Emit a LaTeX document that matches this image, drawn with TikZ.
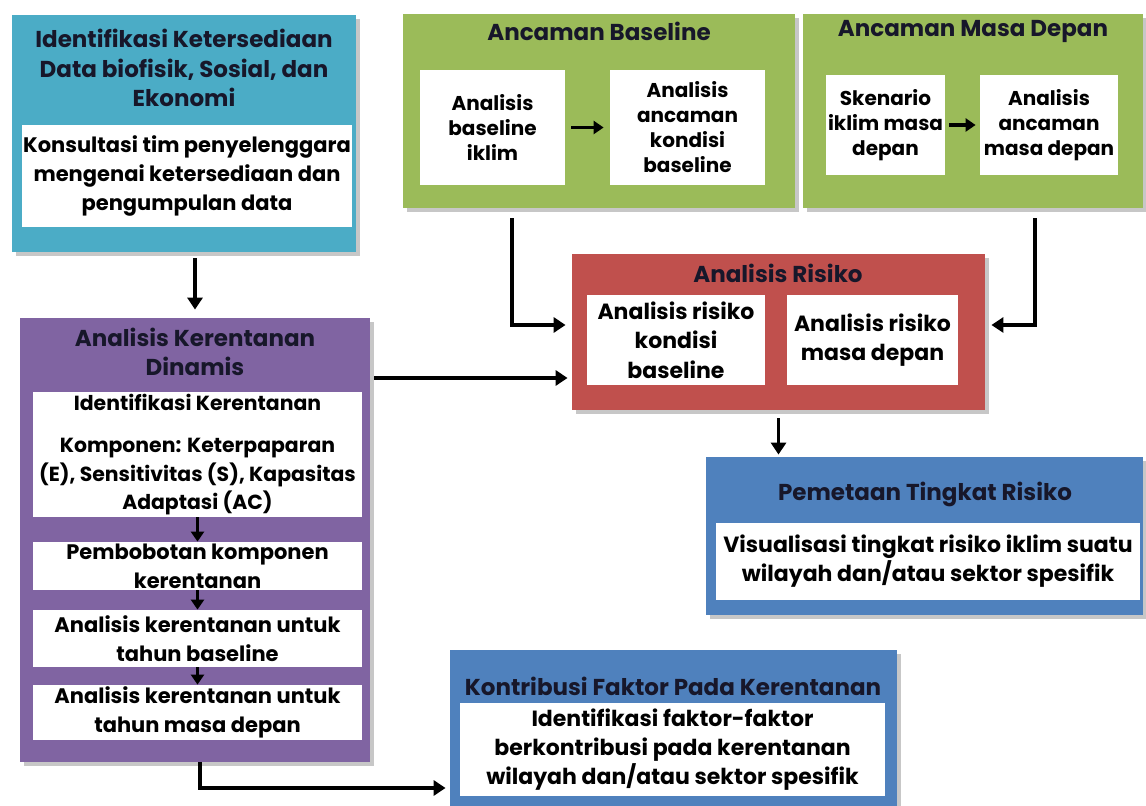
\documentclass[tikz,border=0pt]{standalone}
\usepackage{fontspec}
\setmainfont{Poppins}
\usetikzlibrary{arrows.meta,positioning,fit,shadows}
\definecolor{aquagrp}{HTML}{4BACC6}
\definecolor{greengrp}{HTML}{9BBB59}
\definecolor{redgrp}{HTML}{C0504D}
\definecolor{purplegrp}{HTML}{8064A2}
\definecolor{bluegrp}{HTML}{4F81BD}
\definecolor{ink}{HTML}{17172A}
\tikzset{every node/.style={font=\bfseries\fontsize{10.5}{14.5}\selectfont,text=ink},
 grp/.style={fill=#1,draw=none,inner sep=0pt,
  drop shadow={shadow xshift=2pt,shadow yshift=-2pt,fill=black!22,opacity=1}},
 wbox/.style={fill=white,inner sep=0pt},
 lbl/.style={align=center,text=black,inner sep=0pt},
 sml/.style={lbl,font=\bfseries\fontsize{10}{12.5}\selectfont},
 ttl/.style={align=center,font=\bfseries\fontsize{11.5}{14.7}\selectfont},
 arr/.style={-{Triangle[length=6pt,width=7.5pt]},line width=1.6pt},
 sarr/.style={-{Triangle[length=5pt,width=6.5pt]},line width=1.6pt}}

\begin{document}
\begin{tikzpicture}[x=0.5pt,y=-0.5pt]

\useasboundingbox (0,0) rectangle (1146,806);
% data availability
\node[grp=aquagrp,fit={(12,15)(356,252)}] (idk) {};
\node[ttl] (idkttl) at (184,68) {Identifikasi Ketersediaan\\Data biofisik, Sosial, dan\\Ekonomi};
\node[wbox,fit={(22,125)(352,227)}] (konsul) {};
\node[lbl] (konsultxt) at (konsul)
 {Konsultasi tim penyelenggara\\mengenai ketersediaan dan\\pengumpulan data};

% hazards
\node[grp=greengrp,fit={(403,14)(795,208)}] (abase) {};
\node[ttl] (abasettl) at (599,31) {Ancaman Baseline};
\node[wbox,fit={(420,70)(565,185)}] (abiklim) {};
\node[sml] (abiklimtxt) at (abiklim) {Analisis\\baseline\\iklim};
\node[wbox,fit={(610,70)(765,185)}] (abkond) {};
\node[sml] (abkondtxt) at (abkond) {Analisis\\ancaman\\kondisi\\baseline};
\draw[sarr,shorten <=3pt,shorten >=3pt] (abiklim) -- (abkond);

\node[grp=greengrp,fit={(803,14)(1143,208)}] (amd) {};
\node[ttl] (amdttl) at (973,31) {Ancaman Masa Depan};
\node[wbox,fit={(826,75)(945,175)}] (amdskn) {};
\node[sml] (amdskntxt) at (amdskn) {Skenario\\iklim masa\\depan};
\node[wbox,fit={(980,75)(1118,175)}] (amdanc) {};
\node[sml] (amdanctxt) at (amdanc) {Analisis\\ancaman\\masa depan};
\draw[sarr,shorten <=2pt,shorten >=2pt] (amdskn) -- (amdanc);

% risk
\node[grp=redgrp,fit={(572,254)(985,410)}] (risk) {};
\node[ttl] (riskttl) at (778,273) {Analisis Risiko};
\node[wbox,fit={(587,295)(765,385)}] (riskbase) {};
\node[lbl,font=\bfseries\fontsize{11}{14.7}\selectfont] (riskbasetxt) at (riskbase)
 {Analisis risiko\\kondisi\\baseline};
\node[wbox,fit={(787,295)(958,385)}] (riskmd) {};
\node[lbl,font=\bfseries\fontsize{11}{14.7}\selectfont] (riskmdtxt) at (riskmd)
 {Analisis risiko\\masa depan};

\node[grp=bluegrp,fit={(706,457)(1143,615)}] (peta) {};
\node[ttl] (petattl) at (925,494) {Pemetaan Tingkat Risiko};
\node[wbox,fit={(716,523)(1140,600)}] (petaviz) {};
\node[lbl,font=\bfseries\fontsize{11}{14.5}\selectfont] (petaviztxt) at (petaviz)
 {Visualisasi tingkat risiko iklim suatu\\wilayah dan/atau sektor spesifik};

% vulnerability
\node[grp=purplegrp,fit={(20,318)(370,762)}] (vk) {};
\node[ttl] (vkttl) at (195,352) {Analisis Kerentanan\\Dinamis};
\node[wbox,fit={(33,392)(362,517)}] (vkid) {};
\node[lbl,font=\bfseries\fontsize{10.2}{14.3}\selectfont] (vkidtxt) at (vkid)
 {Identifikasi Kerentanan\\[7pt]Komponen: Keterpaparan\\(E), Sensitivitas (S), Kapasitas\\Adaptasi (AC)};
\node[wbox,fit={(33,542)(362,590)}] (vkbobot) {};
\node[lbl] (vkbobottxt) at (vkbobot) {Pembobotan komponen\\kerentanan};
\node[wbox,fit={(33,610)(362,667)}] (vkbase) {};
\node[lbl] (vkbasetxt) at (vkbase) {Analisis kerentanan untuk\\tahun baseline};
\node[wbox,fit={(33,685)(362,740)}] (vkmd) {};
\node[lbl] (vkmdtxt) at (vkmd) {Analisis kerentanan untuk\\tahun masa depan};
\draw[sarr] (vkid.south) -- (vkbobot.north);
\draw[sarr] (vkbobot.south) -- (vkbase.north);
\draw[sarr] (vkbase.south) -- (vkmd.north);

\node[grp=bluegrp,fit={(450,650)(897,806)}] (kontrib) {};
\node[ttl] (kontribttl) at (673,686) {Kontribusi Faktor Pada Kerentanan};
\node[wbox,fit={(460,703)(885,796)}] (kontribid) {};
\node[lbl,font=\bfseries\fontsize{11}{14.5}\selectfont] (kontribidtxt) at (kontribid)
 {Identifikasi faktor-faktor\\berkontribusi pada kerentanan\\wilayah dan/atau sektor spesifik};

% flow
\draw[arr,shorten <=3pt,shorten >=4pt] (idk.south -| vk.north) -- (vk.north);
\draw[arr,shorten <=2pt,shorten >=2pt] (vk.east |- 0,378) -- (risk.west |- 0,378);
\draw[arr,shorten <=5pt,shorten >=3pt] (abase.south -| 512,0) |- (risk.west |- 0,325);
\draw[arr,shorten <=5pt,shorten >=3pt] (amd.south -| 1035,0) |- (risk.east |- 0,325);
\draw[arr,shorten <=4pt,shorten >=1pt] (risk.south) -- (peta.north -| risk.south);
\draw[arr,shorten >=2pt] (vk.south -| 200,0) |- (kontrib.west |- 0,788);

\end{tikzpicture}
\end{document}
